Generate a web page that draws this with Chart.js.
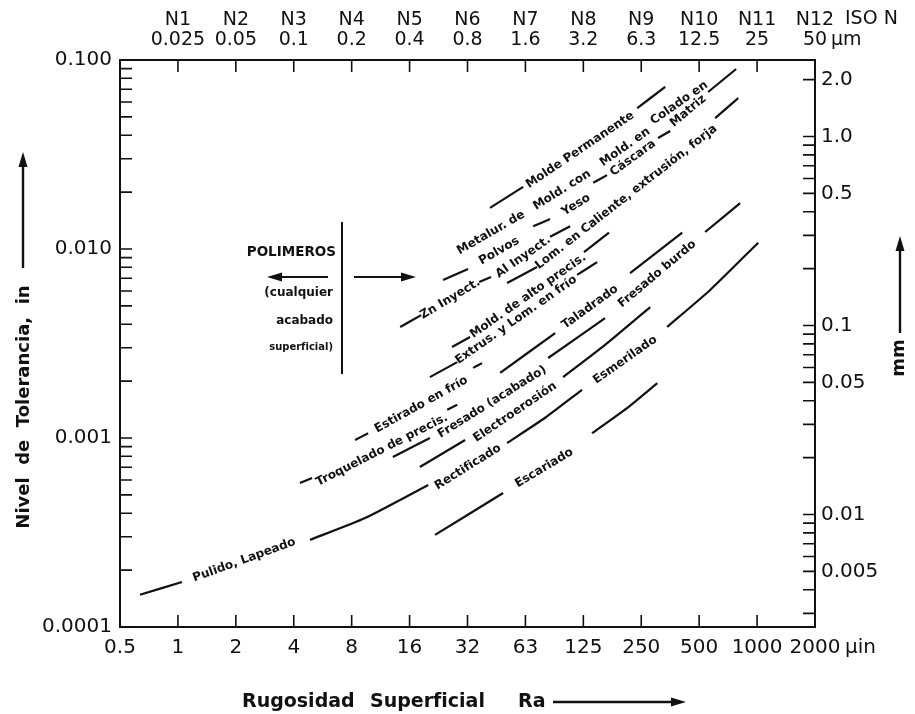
<!DOCTYPE html>
<html lang="es">
<head>
<meta charset="utf-8">
<title>Nivel de tolerancia vs rugosidad superficial</title>
<script src="https://cdn.jsdelivr.net/npm/chart.js@4.4.1/dist/chart.umd.min.js"></script>
<style>
  html, body { margin: 0; padding: 0; background: #fff; }
  #grafico { display: block; }
</style>
</head>
<body>
<canvas id="grafico" width="915" height="714"></canvas>
<script>
// ejes
const rugosidadTicks = [0.5, 1, 2, 4, 8, 16, 32, 64, 128, 256, 512, 1024, 2048];
const rugosidadLabels = ['0.5', '1', '2', '4', '8', '16', '32', '63', '125', '250', '500', '1000', '2000'];
const isoN = ['N1', 'N2', 'N3', 'N4', 'N5', 'N6', 'N7', 'N8', 'N9', 'N10', 'N11', 'N12'];
const isoUm = ['0.025', '0.05', '0.1', '0.2', '0.4', '0.8', '1.6', '3.2', '6.3', '12.5', '25', '50'];
const tolDecadas = [0.0001, 0.001, 0.01, 0.1];
const tolLabels = ['0.0001', '0.001', '0.010', '0.100'];
const mmTicks = [0.003, 0.004, 0.005, 0.006, 0.007, 0.008, 0.009, 0.01, 0.02, 0.03, 0.04, 0.05, 0.06, 0.07, 0.08, 0.09,
                 0.1, 0.2, 0.3, 0.4, 0.5, 0.6, 0.7, 0.8, 0.9, 1.0, 2.0];
const mmLabels = ['', '', '0.005', '', '', '', '', '0.01', '', '', '', '0.05', '', '', '', '',
                  '0.1', '', '', '', '0.5', '', '', '', '', '1.0', '2.0'];

// curvas: Ra (µin) y tolerancia (in); null = hueco donde va el rotulo
const pulidoRa  = [0.635, 1.05, null, 4.86, 9.39, 20.0, null, 51.4, 81.0, 126, null, 349, 584, 1038];
const pulidoTol = [1.48e-4, 1.73e-4, null, 2.89e-4, 3.77e-4, 5.64e-4, null, 9.41e-4, 1.28e-3, 1.80e-3, null, 3.87e-3, 6.07e-3, 1.08e-2];

const escariadoRa  = [21.7, 49.0, null, 142, 216, 310];
const escariadoTol = [3.07e-4, 5.12e-4, null, 1.06e-3, 1.44e-3, 1.95e-3];

const electroRa  = [18.1, 31.1, null, 100.5, 166, 285];
const electroTol = [7.02e-4, 9.76e-4, null, 2.10e-3, 3.11e-3, 4.93e-3];

const fresadoRa  = [13.1, 20.4, null, 84, 166, null, 550, 836];
const fresadoTol = [7.93e-4, 1.0e-3, null, 2.65e-3, 4.31e-3, null, 0.0123, 0.0175];

const troqueladoRa  = [4.31, 4.98, null, 25.1, 28.3, null, 47.3, 91.3, null, 224, 418];
const troqueladoTol = [5.78e-4, 6.14e-4, null, 1.41e-3, 1.50e-3, null, 2.21e-3, 3.59e-3, null, 7.46e-3, 0.0122];

const estiradoRa  = [8.33, 9.74, null, 34.2, 38.1];
const estiradoTol = [9.76e-4, 1.06e-3, null, 2.35e-3, 2.49e-3];

const extrusRa  = [20.4, 28.3, null, 118.8, 151];
const extrusTol = [2.10e-3, 2.52e-3, null, 7.29e-3, 8.53e-3];

const altoPrecisRa  = [26.6, 33.0, null, 129, 174];
const altoPrecisTol = [3.03e-3, 3.42e-3, null, 9.64e-3, 0.0122];

const calienteRa  = [51.4, 73.6, null, 620, 817];
const calienteTol = [6.61e-3, 8.03e-3, null, 0.0493, 0.0629];

const inyectadoRa  = [14.3, 18.4, null, 36.8, 42.4, null, 86.0, 109.3];
const inyectadoTol = [3.87e-3, 4.47e-3, null, 6.69e-3, 7.11e-3, null, 0.0116, 0.0132];

const moldeoRa  = [23.9, 32.2, null, 70.2, 86.0, null, 144, 170, null, 313, 362, null, 570, 797];
const moldeoTol = [6.85e-3, 7.84e-3, null, 0.0132, 0.0144, null, 0.0224, 0.0246, null, 0.0387, 0.0421, null, 0.0677, 0.0896];

const permanenteRa  = [41.9, 62.3, null, 244, 341];
const permanenteTol = [0.0165, 0.0213, null, 0.0557, 0.0720];

// rotulos sobre las curvas
const rotulos = ['Pulido, Lapeado', 'Rectificado', 'Esmerilado', 'Escariado', 'Electroerosión', 'Fresado (acabado)',
  'Fresado burdo', 'Troquelado de precis.', 'Taladrado', 'Estirado en frío', 'Extrus. y Lom. en frío',
  'Mold. de alto precis.', 'Lom. en Caliente, extrusión, forja', 'Zn Inyect.', 'Al Inyect.', 'Metalur. de', 'Polvos',
  'Mold. con', 'Yeso', 'Mold. en', 'Cáscara', 'Colado en', 'Matriz', 'Molde Permanente'];
const rotuloRa = [2.21, 32.2, 211, 80.1, 56.6, 43.0, 310, 11.5, 138.8, 18.4, 57.3, 66.1, 214, 26.0, 62.3, 42.4, 46.7,
  99.3, 117.4, 211, 232, 403, 449, 123.2];
const rotuloTol = [2.26e-4, 7.02e-4, 2.59e-3, 6.94e-4, 1.37e-3, 1.55e-3, 7.38e-3, 8.64e-4, 4.93e-3, 1.50e-3, 4.21e-3,
  5.64e-3, 0.0188, 5.44e-3, 9.07e-3, 0.0122, 9.76e-3, 0.0205, 0.0171, 0.0346, 0.0303, 0.0592, 0.0537, 0.0334];
const rotuloAngulo = [20, 32, 35, 31, 34, 32, 40, 27, 36, 29, 35, 35, 38, 31, 35, 30, 30, 32, 32, 35, 36, 35, 40, 34];

const curvas = [
  [pulidoRa, pulidoTol], [escariadoRa, escariadoTol], [electroRa, electroTol], [fresadoRa, fresadoTol],
  [troqueladoRa, troqueladoTol], [estiradoRa, estiradoTol], [extrusRa, extrusTol], [altoPrecisRa, altoPrecisTol],
  [calienteRa, calienteTol], [inyectadoRa, inyectadoTol], [moldeoRa, moldeoTol], [permanenteRa, permanenteTol]
];

const tinta = '#111';
const fuente = 'DejaVu Sans';

const tolTicks = [];
tolDecadas.slice(0, 3).forEach(d => {
  for (let k = 1; k < 10; k++) tolTicks.push(+(d * k).toPrecision(3));
});
tolTicks.push(0.1);

function flecha(ctx, x1, y1, x2, y2) {
  const a = Math.atan2(y2 - y1, x2 - x1);
  const c = Math.cos(a), s = Math.sin(a);
  ctx.beginPath();
  ctx.moveTo(x1, y1);
  ctx.lineTo(x2 - 10 * c, y2 - 10 * s);
  ctx.stroke();
  ctx.beginPath();
  ctx.moveTo(x2, y2);
  ctx.lineTo(x2 - 15 * c + 4.5 * s, y2 - 15 * s - 4.5 * c);
  ctx.lineTo(x2 - 15 * c - 4.5 * s, y2 - 15 * s + 4.5 * c);
  ctx.closePath();
  ctx.fill();
}

// marcas de los ejes hacia dentro
const marcas = {
  id: 'marcas',
  afterDraw(chart) {
    const {ctx, chartArea: a, scales} = chart;
    const L = 12;
    ctx.save();
    ctx.strokeStyle = tinta;
    ctx.lineWidth = 1.6;
    ctx.beginPath();
    scales.y.ticks.forEach(t => {
      const p = scales.y.getPixelForValue(t.value);
      ctx.moveTo(a.left, p); ctx.lineTo(a.left + L, p);
    });
    scales.yMm.ticks.forEach(t => {
      const p = scales.yMm.getPixelForValue(t.value);
      ctx.moveTo(a.right, p); ctx.lineTo(a.right - L, p);
    });
    scales.x.ticks.forEach(t => {
      const p = scales.x.getPixelForValue(t.value);
      ctx.moveTo(p, a.bottom); ctx.lineTo(p, a.bottom - L);
    });
    scales.xTop.ticks.forEach(t => {
      const p = scales.xTop.getPixelForValue(t.value);
      ctx.moveTo(p, a.top); ctx.lineTo(p, a.top + L);
    });
    ctx.stroke();
    ctx.restore();
  }
};

// nombres de los procesos
const nombres = {
  id: 'nombres',
  afterDatasetsDraw(chart) {
    const {ctx, scales} = chart;
    ctx.save();
    ctx.fillStyle = tinta;
    ctx.font = 'bold 12px "' + fuente + '"';
    ctx.textAlign = 'center';
    ctx.textBaseline = 'middle';
    rotulos.forEach((txt, i) => {
      const px = scales.x.getPixelForValue(rotuloRa[i]);
      const py = scales.y.getPixelForValue(rotuloTol[i]);
      ctx.save();
      ctx.translate(px, py);
      ctx.rotate(-rotuloAngulo[i] * Math.PI / 180);
      ctx.fillText(txt, 0, 0);
      ctx.restore();
    });
    ctx.restore();
  }
};

// titulos, flechas y nota de polimeros
const extras = {
  id: 'extras',
  afterDraw(chart) {
    const ctx = chart.ctx;
    ctx.save();
    ctx.fillStyle = tinta;
    ctx.strokeStyle = tinta;
    ctx.lineWidth = 2.4;
    ctx.textBaseline = 'middle';

    ctx.font = 'bold 19px "' + fuente + '"';
    ctx.textAlign = 'left';
    ctx.fillText('Rugosidad', 242, 702);
    ctx.fillText('Superficial', 370, 702);
    ctx.fillText('Ra', 518, 702);
    flecha(ctx, 553, 702, 686, 702);

    ctx.save();
    ctx.translate(24, 407);
    ctx.rotate(-Math.PI / 2);
    ctx.textAlign = 'center';
    ctx.font = 'bold 18px "' + fuente + '"';
    ctx.fillText('Nivel  de  Tolerancia,  in', 0, 0);
    ctx.restore();
    flecha(ctx, 23, 268, 23, 152);

    ctx.save();
    ctx.translate(899, 358);
    ctx.rotate(-Math.PI / 2);
    ctx.textAlign = 'center';
    ctx.font = 'bold 18px "' + fuente + '"';
    ctx.fillText('mm', 0, 0);
    ctx.restore();
    flecha(ctx, 900, 333, 900, 236);

    ctx.font = '19px "' + fuente + '"';
    ctx.textAlign = 'left';
    ctx.fillText('ISO N', 845, 19);
    ctx.fillText('µm', 831, 40);
    ctx.font = '20px "' + fuente + '"';
    ctx.fillText('µin', 845, 648);

    // polimeros
    ctx.lineWidth = 2;
    ctx.beginPath();
    ctx.moveTo(342, 222); ctx.lineTo(342, 374);
    ctx.stroke();
    ctx.textAlign = 'right';
    ctx.font = 'bold 13.5px "' + fuente + '"';
    ctx.fillText('POLIMEROS', 336, 252);
    ctx.font = 'bold 12px "' + fuente + '"';
    ctx.fillText('(cualquier', 333, 293);
    ctx.fillText('acabado', 333, 321);
    ctx.font = 'bold 10px "' + fuente + '"';
    ctx.fillText('superficial)', 333, 347);
    flecha(ctx, 328, 277, 267, 277);
    flecha(ctx, 354, 277, 416, 277);
    ctx.restore();
  }
};

const borde = {display: true, color: tinta, width: 2};
const sinRejilla = {display: false, drawTicks: false};

new Chart(document.getElementById('grafico'), {
  type: 'scatter',
  data: {
    datasets: curvas.map(([ra, tol]) => ({
      data: ra.map((r, i) => ({x: r, y: tol[i]})),
      showLine: true,
      spanGaps: false,
      borderColor: tinta,
      borderWidth: 2.2,
      pointRadius: 0,
      tension: 0.2
    }))
  },
  options: {
    responsive: false,
    animation: false,
    devicePixelRatio: 1,
    layout: {padding: 0},
    plugins: {legend: {display: false}, tooltip: {enabled: false}},
    scales: {
      x: {
        type: 'logarithmic', position: 'bottom', min: 0.5, max: 2048,
        afterBuildTicks: s => { s.ticks = rugosidadTicks.map(v => ({value: v})); },
        afterFit: s => { s.height = 87; },
        grid: sinRejilla, border: borde,
        ticks: {autoSkip: false, maxRotation: 0, padding: 9, color: tinta,
          font: {family: fuente, size: 20}, callback: (v, i) => rugosidadLabels[i]}
      },
      xTop: {
        type: 'logarithmic', position: 'top', min: 0.5, max: 2048,
        afterBuildTicks: s => { s.ticks = rugosidadTicks.slice(1).map(v => ({value: v})); },
        afterFit: s => { s.height = 60; },
        grid: sinRejilla, border: borde,
        ticks: {autoSkip: false, maxRotation: 0, padding: 9, color: tinta,
          font: {family: fuente, size: 19, lineHeight: 1.1}, callback: (v, i) => [isoN[i], isoUm[i]]}
      },
      y: {
        type: 'logarithmic', position: 'left', min: 0.0001, max: 0.1,
        afterBuildTicks: s => { s.ticks = tolTicks.map(v => ({value: v})); },
        afterFit: s => { s.width = 120; },
        grid: sinRejilla, border: borde,
        ticks: {autoSkip: false, padding: 8, color: tinta, font: {family: fuente, size: 20},
          callback: v => { const i = tolDecadas.indexOf(v); return i >= 0 ? tolLabels[i] : ''; }}
      },
      yMm: {
        type: 'logarithmic', position: 'right', min: 0.00254, max: 2.54,
        afterBuildTicks: s => { s.ticks = mmTicks.map(v => ({value: v})); },
        afterFit: s => { s.width = 100; },
        grid: sinRejilla, border: borde,
        ticks: {autoSkip: false, padding: 6, color: tinta, font: {family: fuente, size: 20},
          callback: (v, i) => mmLabels[i]}
      }
    }
  },
  plugins: [marcas, nombres, extras]
});
</script>
</body>
</html>
